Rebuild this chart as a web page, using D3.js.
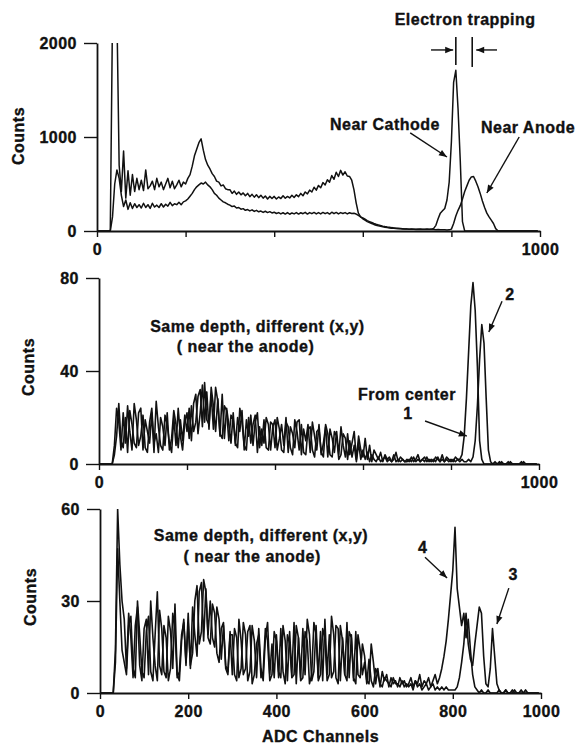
<!DOCTYPE html>
<html>
  <body style="margin:0;background:#fff">
    <script src="https://cdn.jsdelivr.net/npm/d3@7"></script>
    <script>
// Spectra: one value every 5 ADC channels,
// one row per 100 channels (row r, column j -> channel r*100 + j*5)
var step = 5;

// top panel: near cathode / near anode
var topCathode = [
  [0, 0, 0, 0, 0, 0, 0, 2300, 2400, 2300, 700, 420, 850, 350, 640, 380, 600, 420, 560, 440],
  [540, 430, 650, 450, 480, 530, 440, 560, 470, 520, 440, 500, 560, 460, 530, 450, 490, 540, 470, 520],
  [500, 560, 600, 690, 800, 870, 940, 980, 860, 760, 700, 660, 610, 580, 530, 520, 480, 490, 450, 440],
  [440, 400, 425, 390, 415, 385, 405, 375, 400, 365, 390, 360, 385, 355, 380, 350, 372, 340, 368, 345],
  [368, 340, 362, 345, 375, 348, 368, 352, 380, 356, 385, 365, 400, 375, 415, 395, 435, 415, 465, 435],
  [485, 460, 515, 490, 545, 520, 590, 550, 625, 580, 645, 595, 630, 585, 580, 540, 440, 300, 190, 150],
  [130, 115, 100, 90, 80, 70, 62, 55, 50, 45, 40, 36, 33, 30, 28, 26, 24, 23, 22, 21],
  [20, 19, 20, 18, 19, 18, 20, 19, 18, 20, 19, 20, 28, 60, 130, 190, 215, 240, 330, 520],
  [950, 1580, 1710, 1300, 750, 100, 0, 0, 0, 0, 0, 0, 0, 0, 0, 0, 0, 0, 0, 0],
  [0, 0, 0, 0, 0, 0, 0, 0, 0, 0, 0, 0, 0, 0, 0, 0, 0, 0, 0, 0]
];
var topAnode = [
  [0, 0, 0, 0, 0, 0, 0, 150, 500, 650, 560, 380, 260, 330, 230, 300, 240, 290, 250, 280],
  [245, 295, 250, 280, 240, 295, 255, 275, 250, 290, 255, 285, 265, 305, 270, 290, 280, 305, 280, 310],
  [320, 340, 370, 400, 440, 470, 490, 510, 500, 520, 490, 470, 440, 400, 380, 350, 330, 310, 300, 285],
  [275, 260, 265, 245, 250, 232, 238, 220, 228, 214, 225, 208, 220, 204, 212, 198, 210, 196, 206, 192],
  [200, 186, 196, 182, 194, 180, 196, 178, 192, 182, 196, 180, 194, 184, 198, 180, 196, 184, 198, 182],
  [196, 182, 198, 184, 196, 180, 200, 184, 198, 182, 196, 186, 196, 182, 194, 186, 188, 180, 165, 150],
  [140, 125, 110, 100, 90, 80, 72, 65, 58, 52, 47, 43, 40, 36, 33, 30, 28, 26, 24, 22],
  [20, 19, 18, 18, 17, 18, 16, 17, 16, 15, 16, 15, 15, 14, 15, 14, 13, 12, 10, 12],
  [20, 80, 160, 220, 270, 340, 420, 480, 540, 575, 580, 530, 470, 400, 320, 250, 190, 150, 115, 80],
  [25, 3, 0, 0, 0, 0, 0, 0, 0, 0, 0, 0, 0, 0, 0, 0, 0, 0, 0, 0]
];

// middle panel: same depth, positions 1 (from center) and 2
var midPos1 = [
  [0, 0, 0, 0, 0, 0, 0, 8, 24, 18, 6, 22, 9, 25, 14, 6, 26, 19, 8, 12],
  [21, 7, 5, 18, 24, 9, 13, 5, 20, 16, 8, 22, 6, 11, 23, 17, 7, 19, 10, 21],
  [14, 24, 10, 26, 30, 13, 22, 34, 18, 31, 15, 33, 25, 14, 28, 12, 30, 11, 24, 17],
  [9, 22, 8, 20, 14, 23, 6, 19, 12, 21, 8, 18, 22, 7, 15, 9, 20, 17, 6, 16],
  [19, 6, 11, 17, 8, 20, 5, 16, 13, 7, 18, 19, 4, 15, 10, 17, 5, 18, 12, 6],
  [17, 4, 9, 16, 3, 15, 11, 5, 14, 4, 16, 8, 3, 13, 4, 9, 14, 2, 12, 6],
  [3, 11, 2, 8, 1, 6, 4, 2, 5, 1, 4, 2, 3, 1, 2, 5, 1, 3, 2, 1],
  [2, 1, 3, 1, 2, 4, 1, 2, 1, 3, 1, 2, 1, 3, 2, 1, 4, 1, 2, 1],
  [2, 1, 3, 2, 2, 4, 12, 28, 48, 68, 78, 66, 42, 10, 2, 0, 0, 0, 0, 0],
  [1, 0, 0, 1, 0, 0, 0, 1, 0, 0, 0, 0, 1, 0, 0, 0, 0, 0, 0, 0]
];
var midPos2 = [
  [0, 0, 0, 0, 0, 0, 0, 4, 12, 26, 10, 7, 20, 5, 23, 17, 9, 7, 22, 24],
  [6, 19, 14, 9, 22, 5, 27, 16, 8, 6, 21, 17, 9, 5, 20, 8, 24, 12, 6, 18],
  [22, 11, 25, 14, 18, 29, 32, 16, 35, 19, 17, 30, 15, 33, 27, 13, 11, 25, 23, 10],
  [21, 19, 9, 7, 24, 18, 8, 6, 20, 9, 17, 21, 5, 16, 8, 19, 7, 6, 18, 17],
  [7, 20, 15, 6, 5, 18, 16, 7, 4, 19, 14, 6, 17, 5, 4, 15, 16, 6, 3, 14],
  [15, 5, 3, 17, 13, 4, 3, 14, 12, 2, 4, 13, 11, 2, 10, 3, 8, 1, 9, 2],
  [6, 2, 5, 1, 4, 2, 1, 3, 1, 2, 3, 1, 2, 1, 4, 1, 2, 1, 2, 1],
  [1, 2, 1, 3, 1, 2, 1, 2, 3, 1, 2, 1, 2, 1, 3, 1, 2, 1, 3, 2],
  [1, 2, 1, 2, 1, 2, 1, 1, 2, 1, 3, 10, 25, 45, 60, 52, 28, 6, 1, 0],
  [0, 0, 1, 0, 0, 0, 1, 0, 0, 0, 0, 0, 0, 1, 0, 0, 0, 0, 0, 0]
];

// bottom panel: same depth, positions 3 and 4
var botPos4 = [
  [0, 0, 0, 0, 0, 0, 0, 14, 60, 42, 30, 24, 8, 26, 18, 5, 22, 28, 9, 4],
  [21, 24, 6, 30, 18, 9, 4, 27, 21, 7, 5, 25, 20, 8, 29, 6, 4, 17, 24, 9],
  [26, 8, 28, 19, 12, 33, 36, 17, 34, 19, 30, 18, 15, 28, 24, 11, 22, 9, 7, 20],
  [6, 21, 18, 5, 8, 23, 19, 4, 7, 22, 17, 5, 21, 8, 4, 18, 23, 6, 16, 5],
  [19, 7, 5, 22, 17, 4, 20, 6, 23, 3, 18, 5, 21, 6, 24, 19, 4, 7, 22, 5],
  [20, 4, 24, 6, 19, 5, 7, 22, 21, 4, 18, 6, 23, 5, 19, 4, 20, 6, 5, 16],
  [12, 4, 3, 16, 10, 3, 8, 2, 7, 4, 6, 2, 5, 3, 4, 2, 5, 3, 4, 2],
  [3, 5, 2, 4, 3, 6, 2, 4, 3, 5, 2, 4, 6, 3, 5, 8, 12, 17, 24, 32],
  [40, 54, 34, 28, 22, 26, 18, 24, 14, 6, 2, 1, 0, 1, 0, 0, 1, 0, 0, 0],
  [0, 1, 0, 0, 1, 0, 0, 0, 1, 0, 0, 0, 0, 1, 0, 0, 0, 0, 0, 0]
];
var botPos3 = [
  [0, 0, 0, 0, 0, 0, 0, 10, 47, 30, 14, 10, 6, 22, 25, 8, 5, 30, 19, 7],
  [5, 20, 25, 7, 4, 19, 33, 9, 6, 22, 18, 4, 8, 26, 21, 5, 7, 19, 23, 10],
  [23, 9, 13, 30, 35, 16, 20, 37, 33, 18, 16, 29, 26, 13, 10, 21, 23, 8, 6, 19],
  [19, 6, 4, 24, 17, 6, 8, 20, 22, 3, 6, 16, 19, 5, 7, 21, 17, 4, 6, 20],
  [17, 5, 21, 7, 3, 19, 16, 5, 6, 22, 18, 4, 5, 20, 17, 3, 6, 23, 19, 4],
  [6, 21, 18, 4, 6, 25, 19, 5, 3, 22, 17, 6, 4, 20, 18, 5, 3, 19, 14, 6],
  [10, 3, 11, 4, 2, 8, 6, 3, 2, 5, 4, 3, 2, 5, 3, 3, 2, 4, 2, 3],
  [2, 3, 1, 4, 2, 3, 1, 2, 3, 1, 2, 3, 1, 2, 1, 2, 1, 2, 1, 1],
  [1, 1, 2, 5, 10, 16, 26, 16, 11, 9, 16, 22, 28, 26, 12, 3, 2, 8, 21, 12],
  [3, 1, 0, 0, 1, 0, 0, 1, 0, 0, 0, 1, 0, 0, 0, 0, 0, 0, 0, 0]
];

var xTicks = [0, 200, 400, 600, 800, 1000];

var width = 578;
var height = 747;

// pixel frame of each panel + the bits that differ between them
var panels = [
  { left: 97, right: 540, top: 43, bottom: 231, max: 2000, yTicks: [0, 1000, 2000],
    xLabels: [0, 1000], series: [topCathode, topAnode], stroke: 1.5, labelPos: [24, 136] },
  { left: 99, right: 539, top: 278, bottom: 464, max: 80, yTicks: [0, 40, 80],
    xLabels: [0, 1000], series: [midPos1, midPos2], stroke: 1.6, labelPos: [34, 367] },
  { left: 100, right: 541, top: 509, bottom: 693, max: 60, yTicks: [0, 30, 60],
    xLabels: xTicks, series: [botPos3, botPos4], stroke: 1.6, labelPos: [36, 597] }
];

var svg = d3.select("body").append("svg")
  .attr("width", width)
  .attr("height", height)
  .style("font-family", "'Liberation Sans', Arial, sans-serif")
  .style("font-weight", "bold");

svg.append("defs").append("marker")
  .attr("id", "head")
  .attr("viewBox", "0 0 10 10")
  .attr("refX", 10).attr("refY", 5)
  .attr("markerWidth", 9).attr("markerHeight", 8)
  .attr("markerUnits", "userSpaceOnUse")
  .attr("orient", "auto")
  .append("path").attr("d", "M0,1L10,5L0,9Z").attr("fill", "#111");

function flatten(rows) {
  var out = [];
  rows.forEach(function (row, r) {
    row.forEach(function (v, j) { out.push({ ch: r * 100 + j * step, v: v }); });
  });
  return out;
}

// heavy, slightly spread lettering like the scanned figure
function styleText(sel) {
  sel.attr("font-size", 16).attr("font-weight", "bold")
    .attr("font-family", "'Liberation Sans', Arial, sans-serif")
    .attr("letter-spacing", 0.5).attr("fill", "#111")
    .attr("stroke", "#111").attr("stroke-width", 0.35);
}

panels.forEach(function (p, i) {
  p.x = d3.scaleLinear().domain([0, 1000]).range([p.left, p.right]);
  p.y = d3.scaleLinear().domain([0, p.max]).range([p.bottom, p.top]);

  var g = svg.append("g");

  g.append("clipPath").attr("id", "clip" + i)
    .append("rect")
    .attr("x", p.left).attr("y", p.top)
    .attr("width", p.right - p.left).attr("height", p.bottom - p.top);

  var line = d3.line().x(d => p.x(d.ch)).y(d => p.y(d.v));

  g.append("g").attr("clip-path", "url(#clip" + i + ")")
    .selectAll("path")
    .data(p.series)
    .join("path")
    .attr("d", d => line(flatten(d)))
    .attr("fill", "none")
    .attr("stroke", "#111")
    .attr("stroke-width", p.stroke)
    .attr("stroke-linejoin", "round");

  // axes
  var xAxis = g.append("g")
    .attr("transform", "translate(0," + p.bottom + ")")
    .call(d3.axisBottom(p.x).tickValues(xTicks).tickSize(6).tickSizeOuter(0).tickPadding(7)
      .tickFormat(d => p.xLabels.includes(d) ? d : ""));
  var yAxis = g.append("g")
    .attr("transform", "translate(" + p.left + ",0)")
    .call(d3.axisLeft(p.y).tickValues(p.yTicks).tickSize(13).tickSizeOuter(0).tickPadding(7)
      .tickFormat(d3.format("d")));

  [xAxis, yAxis].forEach(function (a) {
    a.select(".domain").attr("stroke", "#111").attr("stroke-width", 1.8);
    a.selectAll(".tick line").attr("stroke", "#111").attr("stroke-width", 1.4);
    a.selectAll("text").call(styleText);
  });

  g.append("text")
    .attr("transform", "translate(" + p.labelPos[0] + "," + p.labelPos[1] + ") rotate(-90)")
    .attr("text-anchor", "middle")
    .text("Counts")
    .call(styleText);
});

svg.append("text")
  .attr("x", panels[2].x(500)).attr("y", 742)
  .attr("text-anchor", "middle")
  .text("ADC Channels")
  .call(styleText);

// annotations, placed in each panel's data coordinates
function label(p, ch, v, txt) {
  svg.append("text")
    .attr("x", p.x(ch)).attr("y", p.y(v))
    .attr("text-anchor", "middle")
    .text(txt)
    .call(styleText);
}
function arrow(p, c1, v1, c2, v2) {
  svg.append("line")
    .attr("x1", p.x(c1)).attr("y1", p.y(v1))
    .attr("x2", p.x(c2)).attr("y2", p.y(v2))
    .attr("stroke", "#111").attr("stroke-width", 1.4)
    .attr("marker-end", "url(#head)");
}
function rule(p, ch, v1, v2) {
  svg.append("line")
    .attr("x1", p.x(ch)).attr("x2", p.x(ch))
    .attr("y1", p.y(v1)).attr("y2", p.y(v2))
    .attr("stroke", "#111").attr("stroke-width", 1.6);
}

var pt = panels[0], pm = panels[1], pb = panels[2];

label(pt, 831, 2191, "Electron trapping");
rule(pt, 810, 2064, 1766);
rule(pt, 847, 2064, 1745);
arrow(pt, 754, 1926, 804, 1926);
arrow(pt, 903, 1926, 856, 1926);
label(pt, 650, 1074, "Near Cathode");
arrow(pt, 707, 1043, 790, 787);
label(pt, 973, 1043, "Near Anode");
arrow(pt, 953, 1000, 880, 404);

label(pm, 360, 56.8, "Same depth, different (x,y)");
label(pm, 333, 48.2, "( near the anode)");
label(pm, 700, 27.5, "From center");
label(pm, 702, 19.4, "1");
arrow(pm, 741, 18.5, 836, 12);
label(pm, 934, 70.5, "2");
arrow(pm, 916, 70, 886, 56.8);

label(pb, 365, 49.6, "Same depth, different (x,y)");
label(pb, 345, 42.7, "( near the anode)");
label(pb, 732, 45.6, "4");
arrow(pb, 737, 44.3, 787, 37.5);
label(pb, 937, 36.8, "3");
arrow(pb, 927, 34.2, 900, 22.5);
    </script>
  </body>
</html>
